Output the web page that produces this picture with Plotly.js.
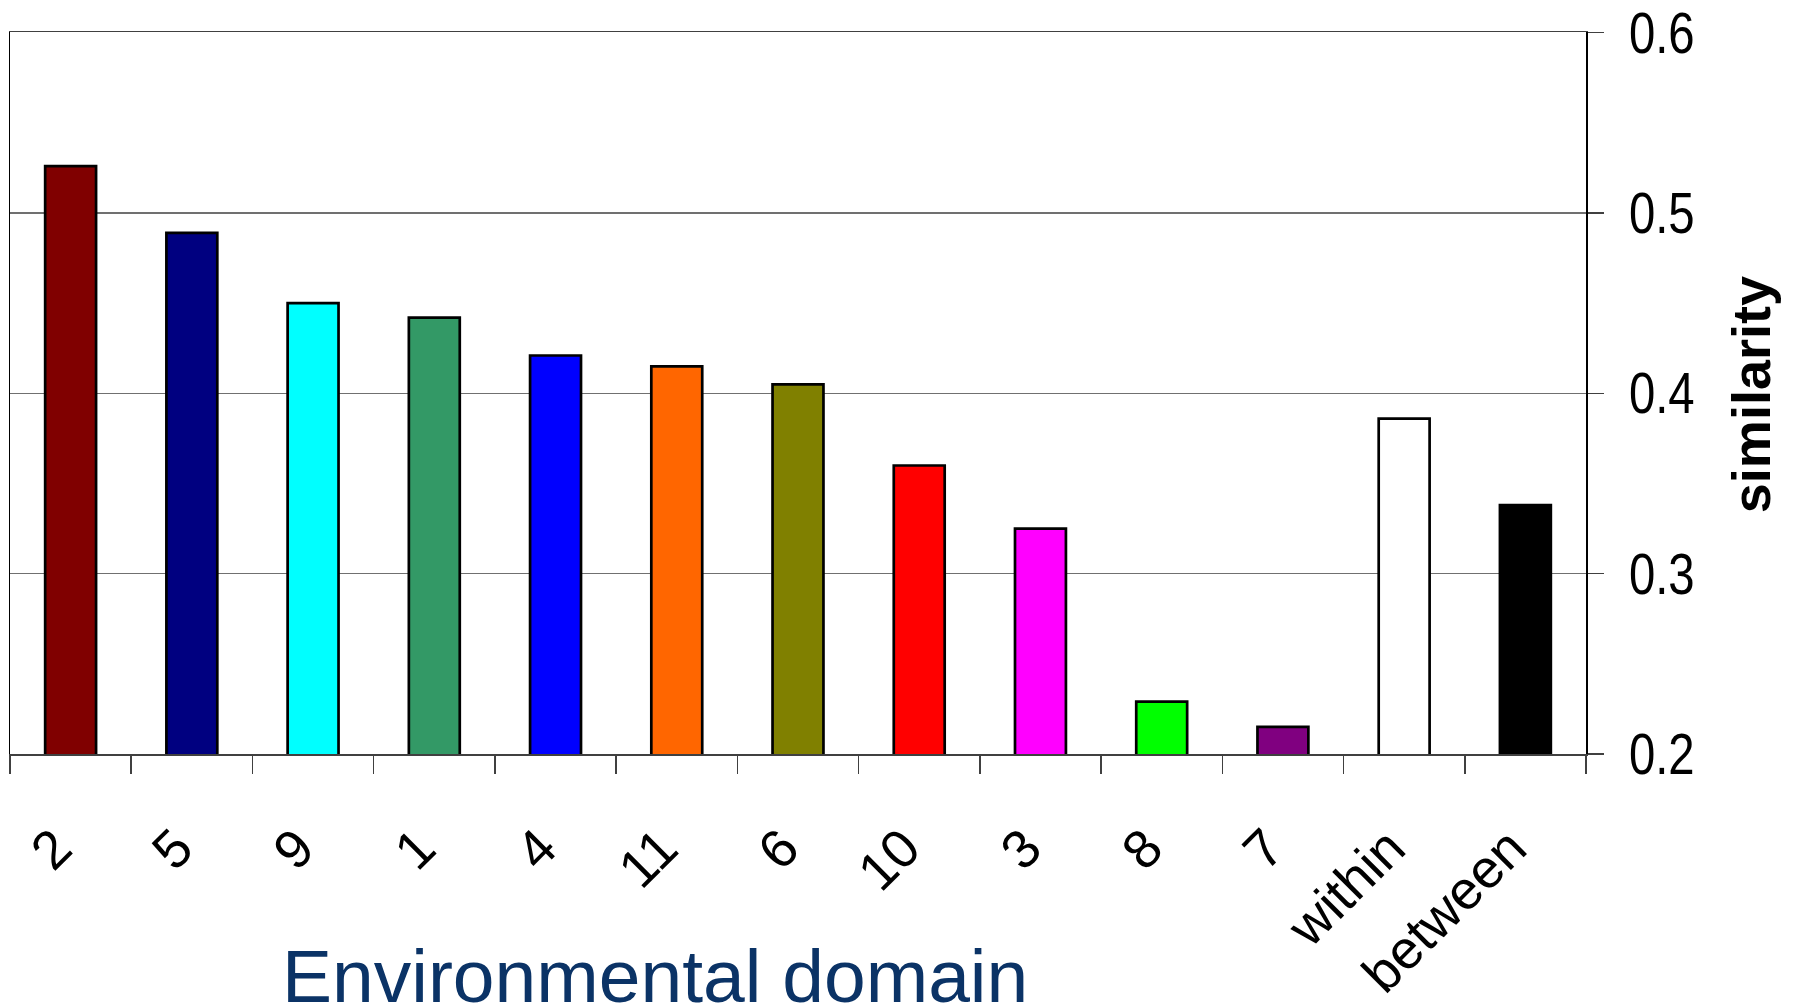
<!DOCTYPE html>
<html>
<head>
<meta charset="utf-8">
<script src="https://cdn.plot.ly/plotly-3.0.1.min.js"></script>
<style>
  html, body { margin: 0; padding: 0; background: #ffffff; }
  #chart { width: 1796px; height: 1008px; }
</style>
</head>
<body>
<div id="chart"></div>
<script>
// Environmental domains, ordered by mean similarity, plus the pooled comparisons
const categories = ['2', '5', '9', '1', '4', '11', '6', '10', '3', '8', '7', 'within', 'between'];
const similarity = [0.526, 0.489, 0.450, 0.442, 0.421, 0.415, 0.405, 0.360, 0.325, 0.229, 0.215, 0.386, 0.338];
const barColors = ['#800000', '#000080', '#00FFFF', '#339966', '#0000FF', '#FF6600', '#808000',
                   '#FF0000', '#FF00FF', '#00FF00', '#800080', '#FFFFFF', '#000000'];
const yTickValues = [0.2, 0.3, 0.4, 0.5, 0.6];
const yTickLabels = ['0.2', '0.3', '0.4', '0.5', '0.6'];
const xTitle = 'Environmental domain';
const yTitle = 'similarity';

const trace = {
  type: 'bar',
  x: categories,
  y: similarity,
  marker: {
    color: barColors,
    line: { color: '#000000', width: 2.7 }
  },
  width: 0.42,
  hoverinfo: 'x+y'
};

const layout = {
  width: 1796,
  height: 1008,
  margin: { l: 10, r: 210, t: 32, b: 254, autoexpand: false },
  paper_bgcolor: '#ffffff',
  plot_bgcolor: '#ffffff',
  showlegend: false,
  font: { family: 'Liberation Sans, Arial, sans-serif', color: '#000000' },
  xaxis: {
    type: 'category',
    range: [-0.5, 12.5],
    fixedrange: true,
    showgrid: false,
    zeroline: false,
    showline: true,
    linecolor: '#404040',
    linewidth: 1.5,
    mirror: true,
    ticks: 'outside',
    tickson: 'boundaries',
    ticklen: 18,
    tickwidth: 1.5,
    tickcolor: '#404040',
    tickangle: -45,
    ticklabelstandoff: 39,
    ticklabelshift: -15,
    tickfont: { family: 'Liberation Sans, Arial, sans-serif', size: 54, color: '#000000' }
  },
  yaxis: {
    side: 'right',
    range: [0.2, 0.6004],
    fixedrange: true,
    tickmode: 'array',
    tickvals: yTickValues,
    ticktext: yTickLabels,
    showgrid: true,
    gridcolor: '#707070',
    gridwidth: 1.2,
    zeroline: false,
    showline: true,
    linecolor: '#000000',
    linewidth: 1.5,
    mirror: true,
    ticks: 'outside',
    ticklen: 16,
    tickwidth: 1.5,
    tickcolor: '#404040',
    ticklabelstandoff: 14,
    tickfont: { family: 'Liberation Sans, Arial, sans-serif', size: 57, color: '#000000' }
  },
  annotations: [
    {
      text: xTitle,
      xref: 'paper', yref: 'paper',
      x: 0.409, y: -0.3075,
      xanchor: 'center', yanchor: 'middle',
      showarrow: false,
      font: { family: 'Liberation Sans, Arial, sans-serif', size: 75, color: '#0B3366' }
    },
    {
      text: '<b>' + yTitle + '</b>',
      xref: 'paper', yref: 'paper',
      x: 1.1047, y: 0.497,
      xanchor: 'center', yanchor: 'middle',
      textangle: -90,
      showarrow: false,
      font: { family: 'Liberation Sans, Arial, sans-serif', size: 54, color: '#000000' }
    }
  ]
};

Plotly.newPlot('chart', [trace], layout, { displayModeBar: false, staticPlot: true })
  .then(function (gd) {
    // Narrow the value labels on the right-hand axis, keeping their left edge fixed
    gd.querySelectorAll('.ytick text').forEach(function (t) {
      const w = t.getComputedTextLength();
      t.setAttribute('textLength', (w * 0.83).toFixed(1));
      t.setAttribute('lengthAdjust', 'spacingAndGlyphs');
    });
  });
</script>
</body>
</html>
